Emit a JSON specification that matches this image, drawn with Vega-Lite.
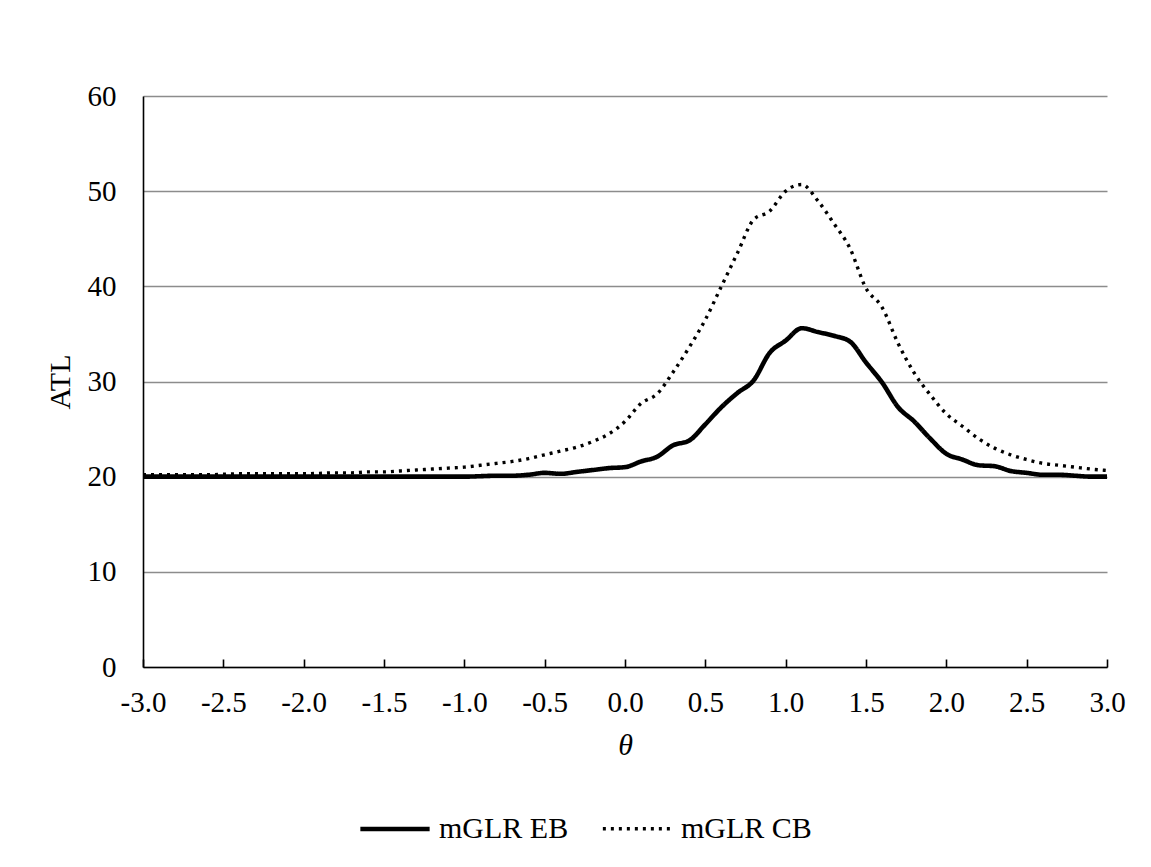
{
  "$schema": "https://vega.github.io/schema/vega-lite/v6.json",
  "autosize": "none",
  "width": 964,
  "height": 571,
  "padding": {"left": 143, "top": 96, "right": 44, "bottom": 200},
  "background": "white",
  "config": {
    "view": {"stroke": null},
    "font": "Liberation Serif"
  },
  "data": {
    "values": [
      {"theta": -3.0, "series": "mGLR EB", "atl": 20.0},
      {"theta": -2.9, "series": "mGLR EB", "atl": 20.0},
      {"theta": -2.8, "series": "mGLR EB", "atl": 20.0},
      {"theta": -2.7, "series": "mGLR EB", "atl": 20.0},
      {"theta": -2.6, "series": "mGLR EB", "atl": 20.0},
      {"theta": -2.5, "series": "mGLR EB", "atl": 20.0},
      {"theta": -2.4, "series": "mGLR EB", "atl": 20.0},
      {"theta": -2.3, "series": "mGLR EB", "atl": 20.0},
      {"theta": -2.2, "series": "mGLR EB", "atl": 20.0},
      {"theta": -2.1, "series": "mGLR EB", "atl": 20.0},
      {"theta": -2.0, "series": "mGLR EB", "atl": 20.0},
      {"theta": -1.9, "series": "mGLR EB", "atl": 20.0},
      {"theta": -1.8, "series": "mGLR EB", "atl": 20.0},
      {"theta": -1.7, "series": "mGLR EB", "atl": 20.0},
      {"theta": -1.6, "series": "mGLR EB", "atl": 20.0},
      {"theta": -1.5, "series": "mGLR EB", "atl": 20.0},
      {"theta": -1.4, "series": "mGLR EB", "atl": 20.0},
      {"theta": -1.3, "series": "mGLR EB", "atl": 20.0},
      {"theta": -1.2, "series": "mGLR EB", "atl": 20.0},
      {"theta": -1.1, "series": "mGLR EB", "atl": 20.0},
      {"theta": -1.0, "series": "mGLR EB", "atl": 20.0},
      {"theta": -0.9, "series": "mGLR EB", "atl": 20.05},
      {"theta": -0.8, "series": "mGLR EB", "atl": 20.1},
      {"theta": -0.7, "series": "mGLR EB", "atl": 20.1},
      {"theta": -0.6, "series": "mGLR EB", "atl": 20.2},
      {"theta": -0.5, "series": "mGLR EB", "atl": 20.4},
      {"theta": -0.4, "series": "mGLR EB", "atl": 20.3},
      {"theta": -0.3, "series": "mGLR EB", "atl": 20.5},
      {"theta": -0.2, "series": "mGLR EB", "atl": 20.7},
      {"theta": -0.1, "series": "mGLR EB", "atl": 20.9},
      {"theta": 0.0, "series": "mGLR EB", "atl": 21.0},
      {"theta": 0.1, "series": "mGLR EB", "atl": 21.6},
      {"theta": 0.2, "series": "mGLR EB", "atl": 22.1},
      {"theta": 0.3, "series": "mGLR EB", "atl": 23.3},
      {"theta": 0.4, "series": "mGLR EB", "atl": 23.8},
      {"theta": 0.5, "series": "mGLR EB", "atl": 25.5},
      {"theta": 0.6, "series": "mGLR EB", "atl": 27.3},
      {"theta": 0.7, "series": "mGLR EB", "atl": 28.8},
      {"theta": 0.8, "series": "mGLR EB", "atl": 30.1},
      {"theta": 0.9, "series": "mGLR EB", "atl": 33.0},
      {"theta": 1.0, "series": "mGLR EB", "atl": 34.3},
      {"theta": 1.1, "series": "mGLR EB", "atl": 35.6},
      {"theta": 1.2, "series": "mGLR EB", "atl": 35.2},
      {"theta": 1.3, "series": "mGLR EB", "atl": 34.8},
      {"theta": 1.4, "series": "mGLR EB", "atl": 34.2},
      {"theta": 1.5, "series": "mGLR EB", "atl": 32.0},
      {"theta": 1.6, "series": "mGLR EB", "atl": 29.9},
      {"theta": 1.7, "series": "mGLR EB", "atl": 27.3},
      {"theta": 1.8, "series": "mGLR EB", "atl": 25.8},
      {"theta": 1.9, "series": "mGLR EB", "atl": 24.0},
      {"theta": 2.0, "series": "mGLR EB", "atl": 22.4},
      {"theta": 2.1, "series": "mGLR EB", "atl": 21.8},
      {"theta": 2.2, "series": "mGLR EB", "atl": 21.2},
      {"theta": 2.3, "series": "mGLR EB", "atl": 21.1},
      {"theta": 2.4, "series": "mGLR EB", "atl": 20.6},
      {"theta": 2.5, "series": "mGLR EB", "atl": 20.4},
      {"theta": 2.6, "series": "mGLR EB", "atl": 20.2},
      {"theta": 2.7, "series": "mGLR EB", "atl": 20.2},
      {"theta": 2.8, "series": "mGLR EB", "atl": 20.1},
      {"theta": 2.9, "series": "mGLR EB", "atl": 20.0},
      {"theta": 3.0, "series": "mGLR EB", "atl": 20.0},
      {"theta": -3.0, "series": "mGLR CB", "atl": 20.2},
      {"theta": -2.9, "series": "mGLR CB", "atl": 20.2},
      {"theta": -2.8, "series": "mGLR CB", "atl": 20.2},
      {"theta": -2.7, "series": "mGLR CB", "atl": 20.2},
      {"theta": -2.6, "series": "mGLR CB", "atl": 20.2},
      {"theta": -2.5, "series": "mGLR CB", "atl": 20.25},
      {"theta": -2.4, "series": "mGLR CB", "atl": 20.3},
      {"theta": -2.3, "series": "mGLR CB", "atl": 20.3},
      {"theta": -2.2, "series": "mGLR CB", "atl": 20.3},
      {"theta": -2.1, "series": "mGLR CB", "atl": 20.3},
      {"theta": -2.0, "series": "mGLR CB", "atl": 20.3},
      {"theta": -1.9, "series": "mGLR CB", "atl": 20.35},
      {"theta": -1.8, "series": "mGLR CB", "atl": 20.4},
      {"theta": -1.7, "series": "mGLR CB", "atl": 20.4},
      {"theta": -1.6, "series": "mGLR CB", "atl": 20.5},
      {"theta": -1.5, "series": "mGLR CB", "atl": 20.5},
      {"theta": -1.4, "series": "mGLR CB", "atl": 20.6},
      {"theta": -1.3, "series": "mGLR CB", "atl": 20.7},
      {"theta": -1.2, "series": "mGLR CB", "atl": 20.8},
      {"theta": -1.1, "series": "mGLR CB", "atl": 20.9},
      {"theta": -1.0, "series": "mGLR CB", "atl": 21.0},
      {"theta": -0.9, "series": "mGLR CB", "atl": 21.2},
      {"theta": -0.8, "series": "mGLR CB", "atl": 21.4},
      {"theta": -0.7, "series": "mGLR CB", "atl": 21.6},
      {"theta": -0.6, "series": "mGLR CB", "atl": 21.9},
      {"theta": -0.5, "series": "mGLR CB", "atl": 22.3},
      {"theta": -0.4, "series": "mGLR CB", "atl": 22.7},
      {"theta": -0.3, "series": "mGLR CB", "atl": 23.1},
      {"theta": -0.2, "series": "mGLR CB", "atl": 23.7},
      {"theta": -0.1, "series": "mGLR CB", "atl": 24.5},
      {"theta": 0.0, "series": "mGLR CB", "atl": 25.8},
      {"theta": 0.1, "series": "mGLR CB", "atl": 27.7},
      {"theta": 0.2, "series": "mGLR CB", "atl": 28.7},
      {"theta": 0.3, "series": "mGLR CB", "atl": 31.0},
      {"theta": 0.4, "series": "mGLR CB", "atl": 33.6},
      {"theta": 0.5, "series": "mGLR CB", "atl": 36.5},
      {"theta": 0.6, "series": "mGLR CB", "atl": 40.0},
      {"theta": 0.7, "series": "mGLR CB", "atl": 43.5},
      {"theta": 0.8, "series": "mGLR CB", "atl": 47.0},
      {"theta": 0.9, "series": "mGLR CB", "atl": 47.9},
      {"theta": 1.0, "series": "mGLR CB", "atl": 50.0},
      {"theta": 1.1, "series": "mGLR CB", "atl": 50.7},
      {"theta": 1.2, "series": "mGLR CB", "atl": 49.0},
      {"theta": 1.3, "series": "mGLR CB", "atl": 46.6},
      {"theta": 1.4, "series": "mGLR CB", "atl": 44.0},
      {"theta": 1.5, "series": "mGLR CB", "atl": 39.8},
      {"theta": 1.6, "series": "mGLR CB", "atl": 37.8},
      {"theta": 1.7, "series": "mGLR CB", "atl": 34.0},
      {"theta": 1.8, "series": "mGLR CB", "atl": 30.9},
      {"theta": 1.9, "series": "mGLR CB", "atl": 28.6},
      {"theta": 2.0, "series": "mGLR CB", "atl": 26.6},
      {"theta": 2.1, "series": "mGLR CB", "atl": 25.3},
      {"theta": 2.2, "series": "mGLR CB", "atl": 24.0},
      {"theta": 2.3, "series": "mGLR CB", "atl": 23.0},
      {"theta": 2.4, "series": "mGLR CB", "atl": 22.3},
      {"theta": 2.5, "series": "mGLR CB", "atl": 21.8},
      {"theta": 2.6, "series": "mGLR CB", "atl": 21.4},
      {"theta": 2.7, "series": "mGLR CB", "atl": 21.2},
      {"theta": 2.8, "series": "mGLR CB", "atl": 21.0},
      {"theta": 2.9, "series": "mGLR CB", "atl": 20.8},
      {"theta": 3.0, "series": "mGLR CB", "atl": 20.65}
    ]
  },
  "mark": {"type": "line", "color": "black", "interpolate": "monotone"},
  "encoding": {
    "x": {
      "field": "theta",
      "type": "quantitative",
      "scale": {"domain": [-3, 3], "nice": false, "zero": false},
      "axis": {
        "values": [-3, -2.5, -2, -1.5, -1, -0.5, 0, 0.5, 1, 1.5, 2, 2.5, 3],
        "labelExpr": "replace(format(datum.value, '.1f'), '\u2212', '-')",
        "labelFlush": false,
        "grid": false,
        "domainColor": "black",
        "domainWidth": 1.6,
        "tickColor": "black",
        "tickWidth": 1.6,
        "tickSize": -8,
        "labelPadding": 29,
        "labelFont": "Liberation Serif",
        "labelFontSize": 29,
        "labelColor": "black",
        "title": "θ",
        "titleFont": "Liberation Serif",
        "titleFontStyle": "italic",
        "titleFontWeight": "normal",
        "titleFontSize": 30,
        "titleColor": "black",
        "titlePadding": 13
      }
    },
    "y": {
      "field": "atl",
      "type": "quantitative",
      "scale": {"domain": [0, 60], "nice": false},
      "axis": {
        "values": [0, 10, 20, 30, 40, 50, 60],
        "grid": true,
        "gridColor": "#8c8c8c",
        "gridWidth": 1.5,
        "ticks": false,
        "domainColor": "black",
        "domainWidth": 1.6,
        "labelPadding": 27,
        "labelFont": "Liberation Serif",
        "labelFontSize": 29,
        "labelColor": "black",
        "title": "ATL",
        "titleFont": "Liberation Serif",
        "titleFontWeight": "normal",
        "titleFontSize": 30,
        "titleColor": "black",
        "titlePadding": 12
      }
    },
    "detail": {"field": "series"},
    "strokeDash": {
      "field": "series",
      "type": "nominal",
      "scale": {"domain": ["mGLR EB", "mGLR CB"], "range": [[1, 0], [3, 5]]},
      "legend": {
        "title": null,
        "orient": "none",
        "legendX": 215,
        "legendY": 696,
        "direction": "horizontal",
        "symbolType": "stroke",
        "symbolSize": 4800,
        "symbolStrokeColor": "black",
        "labelFont": "Liberation Serif",
        "labelFontSize": 30,
        "labelColor": "black",
        "labelOffset": 7,
        "columnPadding": 27
      }
    },
    "strokeWidth": {
      "field": "series",
      "type": "nominal",
      "scale": {"domain": ["mGLR EB", "mGLR CB"], "range": [4.6, 3.4]},
      "legend": {
        "title": null,
        "orient": "none",
        "legendX": 215,
        "legendY": 696,
        "direction": "horizontal",
        "symbolType": "stroke",
        "symbolSize": 4800,
        "symbolStrokeColor": "black",
        "labelFont": "Liberation Serif",
        "labelFontSize": 30,
        "labelColor": "black",
        "labelOffset": 7,
        "columnPadding": 27
      }
    }
  }
}
